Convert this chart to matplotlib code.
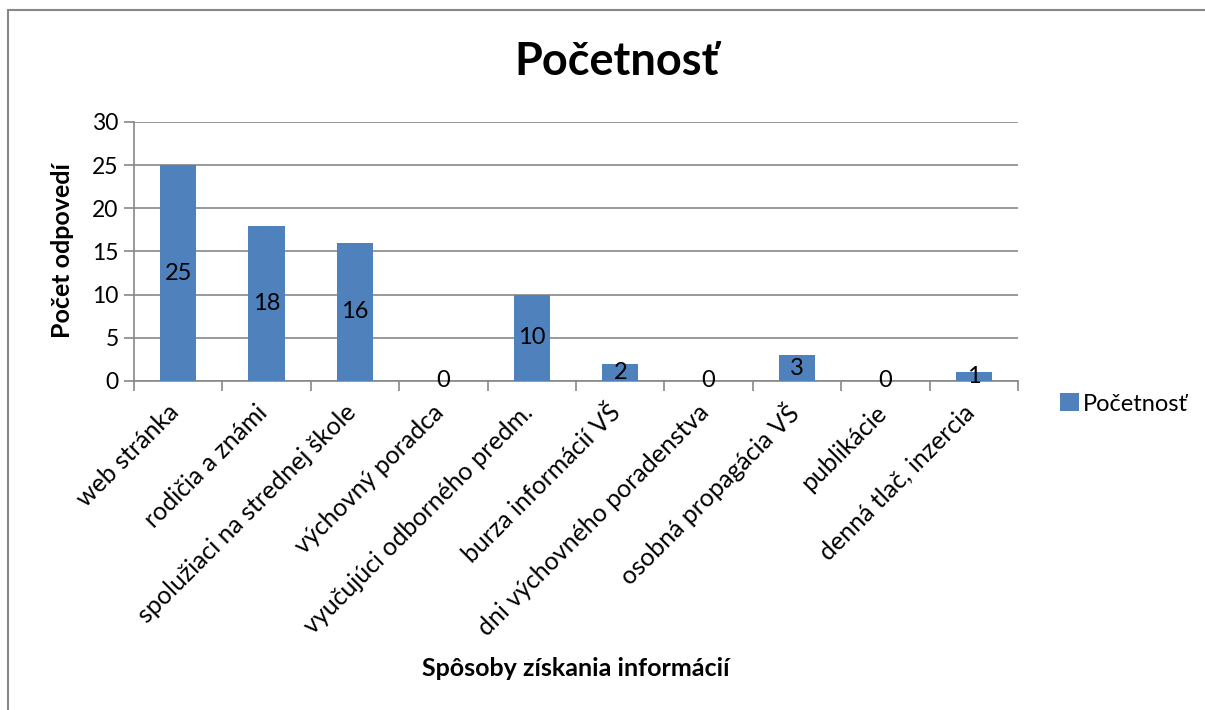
import matplotlib
matplotlib.use('Agg')
import matplotlib.pyplot as plt
from matplotlib.patches import Rectangle
from matplotlib.transforms import ScaledTranslation

# Data
categories = ['web stránka', 'rodičia a známi', 'spolužiaci na strednej škole',
              'výchovný poradca', 'vyučujúci odborného predm.', 'burza informácií VŠ',
              'dni výchovného poradenstva', 'osobná propagácia VŠ', 'publikácie',
              'denná tlač, inzercia']
counts = [25, 18, 16, 0, 10, 2, 0, 3, 0, 1]
series_name = 'Početnosť'
y_ticks = [0, 5, 10, 15, 20, 25, 30]

plt.rcParams['font.family'] = ['Lato', 'DejaVu Sans']

W, H = 1205, 710
fig = plt.figure(figsize=(W / 100, H / 100), dpi=100)

# chart border
fig.patches.append(Rectangle((8 / W, -0.1), 1.2, (H - 10) / H + 0.1, transform=fig.transFigure,
                             fill=False, edgecolor='#888888', linewidth=1.5))

left, right, top, bottom = 134, 1018, 122, 381
ax = fig.add_axes([left / W, 1 - bottom / H, (right - left) / W, (bottom - top) / H])

x = list(range(len(categories)))
bars = ax.bar(x, counts, width=0.41, color='#4F81BD', label=series_name, zorder=3)

# data labels centered in the bars
for xi, v in zip(x, counts):
    ax.text(xi, v / 2, str(v), ha='center', va='center', fontsize=17, color='black', zorder=4)

ax.set_xlim(-0.5, len(categories) - 0.5)
ax.set_ylim(0, 30)
ax.set_yticks(y_ticks)
ax.tick_params(axis='y', labelsize=16.5, length=7, color='#888888', width=1.2, pad=4)

# category labels and boundary ticks
ax.set_xticks(x)
ax.set_xticklabels(categories, rotation=45, ha='right', va='center',
                   rotation_mode='anchor', fontsize=18)
ax.tick_params(axis='x', which='major', length=0, pad=20)
for lbl in ax.get_xticklabels():
    lbl.set_transform(lbl.get_transform() + ScaledTranslation(-0.03, 0, fig.dpi_scale_trans))
ax.set_xticks([i - 0.5 for i in range(len(categories) + 1)], minor=True)
ax.tick_params(axis='x', which='minor', length=7, color='#888888', width=1.2)

ax.grid(axis='y', color='#888888', linewidth=1.2, zorder=0)
for s in ['top', 'right']:
    ax.spines[s].set_visible(False)
for s in ['left', 'bottom']:
    ax.spines[s].set_color('#888888')
    ax.spines[s].set_linewidth(1.2)

fig.text(62 / W, 1 - 251 / H, 'Počet odpovedí', ha='center', va='center', rotation=90,
         fontsize=18, fontweight='bold')
fig.text(576 / W, 1 - 668 / H, 'Spôsoby získania informácií', ha='center', va='center',
         fontsize=18, fontweight='bold')
fig.text(617 / W, 1 - 62 / H, 'Početnosť', ha='center', va='center', fontsize=32.5, fontweight='bold')

fig.legend(handles=[bars], labels=[series_name], loc='center left',
           bbox_to_anchor=(1039 / W, 1 - 404 / H), frameon=False, fontsize=17,
           handlelength=0.8, handleheight=0.8, handletextpad=0.15)

fig.savefig('out.png', dpi=100)
